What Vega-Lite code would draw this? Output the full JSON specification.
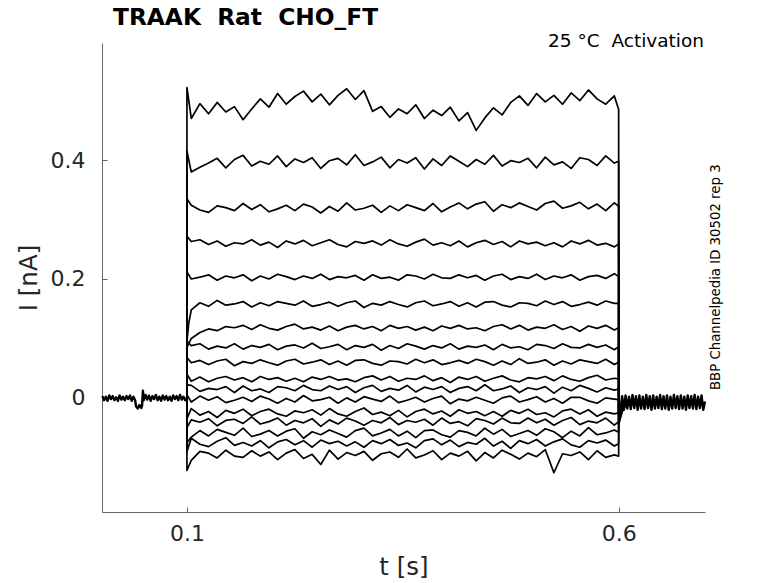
{
  "$schema": "https://vega.github.io/schema/vega-lite/v6.json",
  "width": 603,
  "height": 469,
  "autosize": "none",
  "padding": {"left": 102, "top": 43, "right": 73, "bottom": 71},
  "background": "white",
  "config": {"view": {"stroke": null}, "font": "DejaVu Sans"},
  "title": {"text": "TRAAK\u00a0 Rat\u00a0 CHO_FT", "anchor": "start", "frame": "group", "font": "DejaVu Sans", "fontSize": 23.3, "fontWeight": "bold", "color": "black", "dx": 11, "offset": 2, "baseline": "top"},
  "datasets": {
    "bands": [
      {"s":0,"t":0.002,"v":0.003},{"s":0,"t":0.004,"v":-0.004},{"s":0,"t":0.006,"v":0.002},{"s":0,"t":0.008,"v":-0.005},{"s":0,"t":0.010,"v":0.004},{"s":0,"t":0.012,"v":-0.002},{"s":0,"t":0.014,"v":0.003},{"s":0,"t":0.016,"v":-0.004},{"s":0,"t":0.018,"v":0.001},{"s":0,"t":0.020,"v":-0.005},
      {"s":0,"t":0.022,"v":0.004},{"s":0,"t":0.024,"v":-0.003},{"s":0,"t":0.026,"v":0.002},{"s":0,"t":0.028,"v":-0.004},{"s":0,"t":0.030,"v":0.003},{"s":0,"t":0.032,"v":-0.002},{"s":0,"t":0.034,"v":0.004},{"s":0,"t":0.036,"v":-0.005},{"s":0,"t":0.038,"v":0.002},{"s":0,"t":0.040,"v":-0.004},
      {"s":0,"t":0.041,"v":-0.014},{"s":0,"t":0.043,"v":-0.018},{"s":0,"t":0.045,"v":-0.012},{"s":0,"t":0.047,"v":-0.017},{"s":0,"t":0.048,"v":-0.013},{"s":0,"t":0.049,"v":0.012},{"s":0,"t":0.050,"v":-0.004},{"s":0,"t":0.052,"v":0.005},{"s":0,"t":0.054,"v":-0.003},{"s":0,"t":0.056,"v":0.004},
      {"s":0,"t":0.058,"v":-0.005},{"s":0,"t":0.060,"v":0.003},{"s":0,"t":0.062,"v":-0.002},{"s":0,"t":0.064,"v":0.005},{"s":0,"t":0.066,"v":-0.004},{"s":0,"t":0.068,"v":0.002},{"s":0,"t":0.070,"v":-0.005},{"s":0,"t":0.072,"v":0.004},{"s":0,"t":0.074,"v":-0.003},{"s":0,"t":0.076,"v":0.003},
      {"s":0,"t":0.078,"v":-0.004},{"s":0,"t":0.080,"v":0.002},{"s":0,"t":0.082,"v":-0.005},{"s":0,"t":0.084,"v":0.004},{"s":0,"t":0.086,"v":-0.002},{"s":0,"t":0.088,"v":0.003},{"s":0,"t":0.090,"v":-0.004},{"s":0,"t":0.092,"v":0.005},{"s":0,"t":0.094,"v":-0.003},{"s":0,"t":0.096,"v":0.002},{"s":0,"t":0.098,"v":-0.004},{"s":0,"t":0.0999,"v":0.0},
      {"s":18,"t":0.600,"v":-0.010},{"s":18,"t":0.602,"v":-0.022},{"s":18,"t":0.604,"v":0.003},{"s":18,"t":0.606,"v":-0.020},{"s":18,"t":0.608,"v":0.004},{"s":18,"t":0.610,"v":-0.018},{"s":18,"t":0.612,"v":0.002},{"s":18,"t":0.614,"v":-0.019},{"s":18,"t":0.616,"v":0.005},{"s":18,"t":0.618,"v":-0.017},
      {"s":18,"t":0.620,"v":0.003},{"s":18,"t":0.622,"v":-0.020},{"s":18,"t":0.624,"v":0.004},{"s":18,"t":0.626,"v":-0.018},{"s":18,"t":0.628,"v":0.002},{"s":18,"t":0.630,"v":-0.019},{"s":18,"t":0.632,"v":0.005},{"s":18,"t":0.634,"v":-0.017},{"s":18,"t":0.636,"v":0.003},{"s":18,"t":0.638,"v":-0.020},
      {"s":18,"t":0.640,"v":0.004},{"s":18,"t":0.642,"v":-0.018},{"s":18,"t":0.644,"v":0.002},{"s":18,"t":0.646,"v":-0.017},{"s":18,"t":0.648,"v":0.005},{"s":18,"t":0.650,"v":-0.019},{"s":18,"t":0.652,"v":0.003},{"s":18,"t":0.654,"v":-0.018},{"s":18,"t":0.656,"v":0.004},{"s":18,"t":0.658,"v":-0.020},
      {"s":18,"t":0.660,"v":0.002},{"s":18,"t":0.662,"v":-0.018},{"s":18,"t":0.664,"v":0.005},{"s":18,"t":0.666,"v":-0.017},{"s":18,"t":0.668,"v":0.003},{"s":18,"t":0.670,"v":-0.019},{"s":18,"t":0.672,"v":0.004},{"s":18,"t":0.674,"v":-0.018},{"s":18,"t":0.676,"v":0.002},{"s":18,"t":0.678,"v":-0.020},
      {"s":18,"t":0.680,"v":0.004},{"s":18,"t":0.682,"v":-0.017},{"s":18,"t":0.684,"v":0.003},{"s":18,"t":0.686,"v":-0.018},{"s":18,"t":0.688,"v":0.005},{"s":18,"t":0.690,"v":-0.019},{"s":18,"t":0.692,"v":0.002},{"s":18,"t":0.694,"v":-0.017},{"s":18,"t":0.696,"v":0.004},{"s":18,"t":0.698,"v":-0.020},{"s":18,"t":0.700,"v":-0.006}
    ],
    "traces": [
      {"s":1,"t":0.0999,"v":0.001},{"s":1,"t":0.1,"v":0.522},
      {"s":1,"t":0.105,"v":0.470},{"s":1,"t":0.115,"v":0.495},{"s":1,"t":0.125,"v":0.478},{"s":1,"t":0.135,"v":0.497},{"s":1,"t":0.145,"v":0.481},{"s":1,"t":0.155,"v":0.490},{"s":1,"t":0.165,"v":0.468},{"s":1,"t":0.175,"v":0.486},{"s":1,"t":0.185,"v":0.503},{"s":1,"t":0.195,"v":0.489},
      {"s":1,"t":0.205,"v":0.512},{"s":1,"t":0.215,"v":0.494},{"s":1,"t":0.225,"v":0.507},{"s":1,"t":0.235,"v":0.516},{"s":1,"t":0.245,"v":0.498},{"s":1,"t":0.255,"v":0.511},{"s":1,"t":0.265,"v":0.493},{"s":1,"t":0.275,"v":0.509},{"s":1,"t":0.285,"v":0.520},{"s":1,"t":0.295,"v":0.502},
      {"s":1,"t":0.305,"v":0.517},{"s":1,"t":0.315,"v":0.482},{"s":1,"t":0.325,"v":0.490},{"s":1,"t":0.335,"v":0.472},{"s":1,"t":0.345,"v":0.486},{"s":1,"t":0.355,"v":0.478},{"s":1,"t":0.365,"v":0.493},{"s":1,"t":0.375,"v":0.470},{"s":1,"t":0.385,"v":0.484},{"s":1,"t":0.395,"v":0.475},
      {"s":1,"t":0.405,"v":0.489},{"s":1,"t":0.415,"v":0.466},{"s":1,"t":0.425,"v":0.480},{"s":1,"t":0.435,"v":0.450},{"s":1,"t":0.445,"v":0.471},{"s":1,"t":0.455,"v":0.488},{"s":1,"t":0.465,"v":0.476},{"s":1,"t":0.475,"v":0.497},{"s":1,"t":0.485,"v":0.508},{"s":1,"t":0.495,"v":0.492},
      {"s":1,"t":0.505,"v":0.512},{"s":1,"t":0.515,"v":0.498},{"s":1,"t":0.525,"v":0.509},{"s":1,"t":0.535,"v":0.494},{"s":1,"t":0.545,"v":0.513},{"s":1,"t":0.555,"v":0.500},{"s":1,"t":0.565,"v":0.518},{"s":1,"t":0.575,"v":0.503},{"s":1,"t":0.585,"v":0.494},{"s":1,"t":0.595,"v":0.508},
      {"s":1,"t":0.6,"v":0.485},{"s":1,"t":0.6001,"v":-0.045},{"s":1,"t":0.604,"v":-0.024},{"s":1,"t":0.61,"v":-0.008},

      {"s":2,"t":0.0999,"v":-0.001},{"s":2,"t":0.1,"v":0.415},
      {"s":2,"t":0.105,"v":0.380},{"s":2,"t":0.115,"v":0.388},{"s":2,"t":0.125,"v":0.395},{"s":2,"t":0.135,"v":0.403},{"s":2,"t":0.145,"v":0.387},{"s":2,"t":0.155,"v":0.401},{"s":2,"t":0.165,"v":0.408},{"s":2,"t":0.175,"v":0.390},{"s":2,"t":0.185,"v":0.398},{"s":2,"t":0.195,"v":0.393},
      {"s":2,"t":0.205,"v":0.407},{"s":2,"t":0.215,"v":0.389},{"s":2,"t":0.225,"v":0.402},{"s":2,"t":0.235,"v":0.396},{"s":2,"t":0.245,"v":0.404},{"s":2,"t":0.255,"v":0.386},{"s":2,"t":0.265,"v":0.399},{"s":2,"t":0.275,"v":0.403},{"s":2,"t":0.285,"v":0.392},{"s":2,"t":0.295,"v":0.409},
      {"s":2,"t":0.305,"v":0.391},{"s":2,"t":0.315,"v":0.397},{"s":2,"t":0.325,"v":0.405},{"s":2,"t":0.335,"v":0.387},{"s":2,"t":0.345,"v":0.401},{"s":2,"t":0.355,"v":0.395},{"s":2,"t":0.365,"v":0.404},{"s":2,"t":0.375,"v":0.385},{"s":2,"t":0.385,"v":0.402},{"s":2,"t":0.395,"v":0.391},
      {"s":2,"t":0.405,"v":0.407},{"s":2,"t":0.415,"v":0.398},{"s":2,"t":0.425,"v":0.389},{"s":2,"t":0.435,"v":0.401},{"s":2,"t":0.445,"v":0.393},{"s":2,"t":0.455,"v":0.408},{"s":2,"t":0.465,"v":0.390},{"s":2,"t":0.475,"v":0.399},{"s":2,"t":0.485,"v":0.396},{"s":2,"t":0.495,"v":0.403},
      {"s":2,"t":0.505,"v":0.387},{"s":2,"t":0.515,"v":0.405},{"s":2,"t":0.525,"v":0.392},{"s":2,"t":0.535,"v":0.397},{"s":2,"t":0.545,"v":0.386},{"s":2,"t":0.555,"v":0.404},{"s":2,"t":0.565,"v":0.401},{"s":2,"t":0.575,"v":0.391},{"s":2,"t":0.585,"v":0.407},{"s":2,"t":0.595,"v":0.395},
      {"s":2,"t":0.6,"v":0.398},{"s":2,"t":0.6001,"v":-0.040},{"s":2,"t":0.604,"v":-0.021},{"s":2,"t":0.61,"v":-0.006},

      {"s":3,"t":0.0999,"v":0.002},{"s":3,"t":0.1,"v":0.335},
      {"s":3,"t":0.105,"v":0.324},{"s":3,"t":0.115,"v":0.316},{"s":3,"t":0.125,"v":0.312},{"s":3,"t":0.135,"v":0.323},{"s":3,"t":0.145,"v":0.320},{"s":3,"t":0.155,"v":0.315},{"s":3,"t":0.165,"v":0.327},{"s":3,"t":0.175,"v":0.317},{"s":3,"t":0.185,"v":0.325},{"s":3,"t":0.195,"v":0.313},
      {"s":3,"t":0.205,"v":0.318},{"s":3,"t":0.215,"v":0.324},{"s":3,"t":0.225,"v":0.315},{"s":3,"t":0.235,"v":0.326},{"s":3,"t":0.245,"v":0.321},{"s":3,"t":0.255,"v":0.311},{"s":3,"t":0.265,"v":0.322},{"s":3,"t":0.275,"v":0.314},{"s":3,"t":0.285,"v":0.328},{"s":3,"t":0.295,"v":0.316},
      {"s":3,"t":0.305,"v":0.319},{"s":3,"t":0.315,"v":0.324},{"s":3,"t":0.325,"v":0.312},{"s":3,"t":0.335,"v":0.323},{"s":3,"t":0.345,"v":0.315},{"s":3,"t":0.355,"v":0.325},{"s":3,"t":0.365,"v":0.320},{"s":3,"t":0.375,"v":0.315},{"s":3,"t":0.385,"v":0.327},{"s":3,"t":0.395,"v":0.313},
      {"s":3,"t":0.405,"v":0.321},{"s":3,"t":0.415,"v":0.328},{"s":3,"t":0.425,"v":0.318},{"s":3,"t":0.435,"v":0.326},{"s":3,"t":0.445,"v":0.330},{"s":3,"t":0.455,"v":0.314},{"s":3,"t":0.465,"v":0.325},{"s":3,"t":0.475,"v":0.320},{"s":3,"t":0.485,"v":0.328},{"s":3,"t":0.495,"v":0.322},
      {"s":3,"t":0.505,"v":0.316},{"s":3,"t":0.515,"v":0.327},{"s":3,"t":0.525,"v":0.331},{"s":3,"t":0.535,"v":0.319},{"s":3,"t":0.545,"v":0.323},{"s":3,"t":0.555,"v":0.329},{"s":3,"t":0.565,"v":0.318},{"s":3,"t":0.575,"v":0.326},{"s":3,"t":0.585,"v":0.315},{"s":3,"t":0.595,"v":0.328},
      {"s":3,"t":0.6,"v":0.322},{"s":3,"t":0.6001,"v":-0.036},{"s":3,"t":0.604,"v":-0.019},{"s":3,"t":0.61,"v":-0.009},

      {"s":4,"t":0.0999,"v":-0.002},{"s":4,"t":0.1,"v":0.272},
      {"s":4,"t":0.105,"v":0.263},{"s":4,"t":0.115,"v":0.266},{"s":4,"t":0.125,"v":0.258},{"s":4,"t":0.135,"v":0.264},{"s":4,"t":0.145,"v":0.255},{"s":4,"t":0.155,"v":0.261},{"s":4,"t":0.165,"v":0.259},{"s":4,"t":0.175,"v":0.266},{"s":4,"t":0.185,"v":0.257},{"s":4,"t":0.195,"v":0.262},
      {"s":4,"t":0.205,"v":0.253},{"s":4,"t":0.215,"v":0.264},{"s":4,"t":0.225,"v":0.259},{"s":4,"t":0.235,"v":0.265},{"s":4,"t":0.245,"v":0.256},{"s":4,"t":0.255,"v":0.261},{"s":4,"t":0.265,"v":0.266},{"s":4,"t":0.275,"v":0.258},{"s":4,"t":0.285,"v":0.254},{"s":4,"t":0.295,"v":0.263},
      {"s":4,"t":0.305,"v":0.260},{"s":4,"t":0.315,"v":0.264},{"s":4,"t":0.325,"v":0.257},{"s":4,"t":0.335,"v":0.266},{"s":4,"t":0.345,"v":0.259},{"s":4,"t":0.355,"v":0.255},{"s":4,"t":0.365,"v":0.262},{"s":4,"t":0.375,"v":0.267},{"s":4,"t":0.385,"v":0.257},{"s":4,"t":0.395,"v":0.261},
      {"s":4,"t":0.405,"v":0.256},{"s":4,"t":0.415,"v":0.264},{"s":4,"t":0.425,"v":0.254},{"s":4,"t":0.435,"v":0.261},{"s":4,"t":0.445,"v":0.265},{"s":4,"t":0.455,"v":0.258},{"s":4,"t":0.465,"v":0.263},{"s":4,"t":0.475,"v":0.254},{"s":4,"t":0.485,"v":0.264},{"s":4,"t":0.495,"v":0.259},
      {"s":4,"t":0.505,"v":0.262},{"s":4,"t":0.515,"v":0.256},{"s":4,"t":0.525,"v":0.261},{"s":4,"t":0.535,"v":0.254},{"s":4,"t":0.545,"v":0.264},{"s":4,"t":0.555,"v":0.259},{"s":4,"t":0.565,"v":0.265},{"s":4,"t":0.575,"v":0.257},{"s":4,"t":0.585,"v":0.260},{"s":4,"t":0.595,"v":0.254},
      {"s":4,"t":0.6,"v":0.259},{"s":4,"t":0.6001,"v":-0.032},{"s":4,"t":0.604,"v":-0.017},{"s":4,"t":0.61,"v":-0.007},

      {"s":5,"t":0.0999,"v":0.003},{"s":5,"t":0.1,"v":0.212},
      {"s":5,"t":0.105,"v":0.200},{"s":5,"t":0.115,"v":0.203},{"s":5,"t":0.125,"v":0.207},{"s":5,"t":0.135,"v":0.198},{"s":5,"t":0.145,"v":0.205},{"s":5,"t":0.155,"v":0.202},{"s":5,"t":0.165,"v":0.207},{"s":5,"t":0.175,"v":0.197},{"s":5,"t":0.185,"v":0.205},{"s":5,"t":0.195,"v":0.200},
      {"s":5,"t":0.205,"v":0.208},{"s":5,"t":0.215,"v":0.204},{"s":5,"t":0.225,"v":0.199},{"s":5,"t":0.235,"v":0.205},{"s":5,"t":0.245,"v":0.201},{"s":5,"t":0.255,"v":0.208},{"s":5,"t":0.265,"v":0.199},{"s":5,"t":0.275,"v":0.204},{"s":5,"t":0.285,"v":0.202},{"s":5,"t":0.295,"v":0.206},
      {"s":5,"t":0.305,"v":0.198},{"s":5,"t":0.315,"v":0.207},{"s":5,"t":0.325,"v":0.201},{"s":5,"t":0.335,"v":0.203},{"s":5,"t":0.345,"v":0.198},{"s":5,"t":0.355,"v":0.207},{"s":5,"t":0.365,"v":0.205},{"s":5,"t":0.375,"v":0.200},{"s":5,"t":0.385,"v":0.208},{"s":5,"t":0.395,"v":0.202},
      {"s":5,"t":0.405,"v":0.201},{"s":5,"t":0.415,"v":0.207},{"s":5,"t":0.425,"v":0.202},{"s":5,"t":0.435,"v":0.206},{"s":5,"t":0.445,"v":0.198},{"s":5,"t":0.455,"v":0.205},{"s":5,"t":0.465,"v":0.208},{"s":5,"t":0.475,"v":0.199},{"s":5,"t":0.485,"v":0.204},{"s":5,"t":0.495,"v":0.201},
      {"s":5,"t":0.505,"v":0.208},{"s":5,"t":0.515,"v":0.199},{"s":5,"t":0.525,"v":0.205},{"s":5,"t":0.535,"v":0.202},{"s":5,"t":0.545,"v":0.207},{"s":5,"t":0.555,"v":0.198},{"s":5,"t":0.565,"v":0.204},{"s":5,"t":0.575,"v":0.206},{"s":5,"t":0.585,"v":0.201},{"s":5,"t":0.595,"v":0.209},
      {"s":5,"t":0.6,"v":0.204},{"s":5,"t":0.6001,"v":-0.030},{"s":5,"t":0.604,"v":-0.016},{"s":5,"t":0.61,"v":-0.008},

      {"s":6,"t":0.0999,"v":-0.003},{"s":6,"t":0.1,"v":0.095},{"s":6,"t":0.102,"v":0.125},
      {"s":6,"t":0.105,"v":0.148},{"s":6,"t":0.115,"v":0.160},{"s":6,"t":0.125,"v":0.154},{"s":6,"t":0.135,"v":0.164},{"s":6,"t":0.145,"v":0.156},{"s":6,"t":0.155,"v":0.158},{"s":6,"t":0.165,"v":0.162},{"s":6,"t":0.175,"v":0.153},{"s":6,"t":0.185,"v":0.160},{"s":6,"t":0.195,"v":0.155},
      {"s":6,"t":0.205,"v":0.162},{"s":6,"t":0.215,"v":0.159},{"s":6,"t":0.225,"v":0.156},{"s":6,"t":0.235,"v":0.163},{"s":6,"t":0.245,"v":0.154},{"s":6,"t":0.255,"v":0.157},{"s":6,"t":0.265,"v":0.161},{"s":6,"t":0.275,"v":0.154},{"s":6,"t":0.285,"v":0.160},{"s":6,"t":0.295,"v":0.163},
      {"s":6,"t":0.305,"v":0.152},{"s":6,"t":0.315,"v":0.159},{"s":6,"t":0.325,"v":0.156},{"s":6,"t":0.335,"v":0.162},{"s":6,"t":0.345,"v":0.157},{"s":6,"t":0.355,"v":0.153},{"s":6,"t":0.365,"v":0.160},{"s":6,"t":0.375,"v":0.163},{"s":6,"t":0.385,"v":0.155},{"s":6,"t":0.395,"v":0.158},
      {"s":6,"t":0.405,"v":0.162},{"s":6,"t":0.415,"v":0.154},{"s":6,"t":0.425,"v":0.160},{"s":6,"t":0.435,"v":0.153},{"s":6,"t":0.445,"v":0.161},{"s":6,"t":0.455,"v":0.162},{"s":6,"t":0.465,"v":0.156},{"s":6,"t":0.475,"v":0.153},{"s":6,"t":0.485,"v":0.160},{"s":6,"t":0.495,"v":0.159},
      {"s":6,"t":0.505,"v":0.155},{"s":6,"t":0.515,"v":0.163},{"s":6,"t":0.525,"v":0.157},{"s":6,"t":0.535,"v":0.162},{"s":6,"t":0.545,"v":0.154},{"s":6,"t":0.555,"v":0.157},{"s":6,"t":0.565,"v":0.161},{"s":6,"t":0.575,"v":0.156},{"s":6,"t":0.585,"v":0.163},{"s":6,"t":0.595,"v":0.159},
      {"s":6,"t":0.6,"v":0.159},{"s":6,"t":0.6001,"v":-0.027},{"s":6,"t":0.604,"v":-0.015},{"s":6,"t":0.61,"v":-0.007},

      {"s":7,"t":0.0999,"v":0.002},{"s":7,"t":0.1,"v":0.085},
      {"s":7,"t":0.105,"v":0.100},{"s":7,"t":0.115,"v":0.110},{"s":7,"t":0.125,"v":0.116},{"s":7,"t":0.135,"v":0.113},{"s":7,"t":0.145,"v":0.120},{"s":7,"t":0.155,"v":0.118},{"s":7,"t":0.165,"v":0.122},{"s":7,"t":0.175,"v":0.115},{"s":7,"t":0.185,"v":0.123},{"s":7,"t":0.195,"v":0.117},
      {"s":7,"t":0.205,"v":0.114},{"s":7,"t":0.215,"v":0.120},{"s":7,"t":0.225,"v":0.124},{"s":7,"t":0.235,"v":0.116},{"s":7,"t":0.245,"v":0.119},{"s":7,"t":0.255,"v":0.114},{"s":7,"t":0.265,"v":0.121},{"s":7,"t":0.275,"v":0.113},{"s":7,"t":0.285,"v":0.119},{"s":7,"t":0.295,"v":0.122},
      {"s":7,"t":0.305,"v":0.116},{"s":7,"t":0.315,"v":0.120},{"s":7,"t":0.325,"v":0.113},{"s":7,"t":0.335,"v":0.122},{"s":7,"t":0.345,"v":0.117},{"s":7,"t":0.355,"v":0.120},{"s":7,"t":0.365,"v":0.114},{"s":7,"t":0.375,"v":0.119},{"s":7,"t":0.385,"v":0.113},{"s":7,"t":0.395,"v":0.121},
      {"s":7,"t":0.405,"v":0.117},{"s":7,"t":0.415,"v":0.122},{"s":7,"t":0.425,"v":0.116},{"s":7,"t":0.435,"v":0.118},{"s":7,"t":0.445,"v":0.113},{"s":7,"t":0.455,"v":0.120},{"s":7,"t":0.465,"v":0.123},{"s":7,"t":0.475,"v":0.116},{"s":7,"t":0.485,"v":0.122},{"s":7,"t":0.495,"v":0.114},
      {"s":7,"t":0.505,"v":0.119},{"s":7,"t":0.515,"v":0.117},{"s":7,"t":0.525,"v":0.123},{"s":7,"t":0.535,"v":0.115},{"s":7,"t":0.545,"v":0.120},{"s":7,"t":0.555,"v":0.112},{"s":7,"t":0.565,"v":0.121},{"s":7,"t":0.575,"v":0.117},{"s":7,"t":0.585,"v":0.122},{"s":7,"t":0.595,"v":0.114},
      {"s":7,"t":0.6,"v":0.118},{"s":7,"t":0.6001,"v":-0.024},{"s":7,"t":0.604,"v":-0.013},{"s":7,"t":0.61,"v":-0.006},

      {"s":8,"t":0.0999,"v":-0.001},{"s":8,"t":0.1,"v":0.095},
      {"s":8,"t":0.105,"v":0.088},{"s":8,"t":0.115,"v":0.091},{"s":8,"t":0.125,"v":0.082},{"s":8,"t":0.135,"v":0.087},{"s":8,"t":0.145,"v":0.084},{"s":8,"t":0.155,"v":0.091},{"s":8,"t":0.165,"v":0.082},{"s":8,"t":0.175,"v":0.088},{"s":8,"t":0.185,"v":0.085},{"s":8,"t":0.195,"v":0.090},
      {"s":8,"t":0.205,"v":0.081},{"s":8,"t":0.215,"v":0.087},{"s":8,"t":0.225,"v":0.089},{"s":8,"t":0.235,"v":0.084},{"s":8,"t":0.245,"v":0.092},{"s":8,"t":0.255,"v":0.083},{"s":8,"t":0.265,"v":0.086},{"s":8,"t":0.275,"v":0.090},{"s":8,"t":0.285,"v":0.081},{"s":8,"t":0.295,"v":0.088},
      {"s":8,"t":0.305,"v":0.085},{"s":8,"t":0.315,"v":0.090},{"s":8,"t":0.325,"v":0.080},{"s":8,"t":0.335,"v":0.088},{"s":8,"t":0.345,"v":0.083},{"s":8,"t":0.355,"v":0.091},{"s":8,"t":0.365,"v":0.087},{"s":8,"t":0.375,"v":0.082},{"s":8,"t":0.385,"v":0.088},{"s":8,"t":0.395,"v":0.084},
      {"s":8,"t":0.405,"v":0.091},{"s":8,"t":0.415,"v":0.082},{"s":8,"t":0.425,"v":0.087},{"s":8,"t":0.435,"v":0.085},{"s":8,"t":0.445,"v":0.089},{"s":8,"t":0.455,"v":0.081},{"s":8,"t":0.465,"v":0.090},{"s":8,"t":0.475,"v":0.084},{"s":8,"t":0.485,"v":0.086},{"s":8,"t":0.495,"v":0.081},
      {"s":8,"t":0.505,"v":0.090},{"s":8,"t":0.515,"v":0.088},{"s":8,"t":0.525,"v":0.083},{"s":8,"t":0.535,"v":0.091},{"s":8,"t":0.545,"v":0.085},{"s":8,"t":0.555,"v":0.084},{"s":8,"t":0.565,"v":0.090},{"s":8,"t":0.575,"v":0.085},{"s":8,"t":0.585,"v":0.089},{"s":8,"t":0.595,"v":0.081},
      {"s":8,"t":0.6,"v":0.086},{"s":8,"t":0.6001,"v":-0.022},{"s":8,"t":0.604,"v":-0.012},{"s":8,"t":0.61,"v":-0.008},

      {"s":9,"t":0.0999,"v":0.001},{"s":9,"t":0.1,"v":0.068},
      {"s":9,"t":0.105,"v":0.059},{"s":9,"t":0.115,"v":0.063},{"s":9,"t":0.125,"v":0.056},{"s":9,"t":0.135,"v":0.062},{"s":9,"t":0.145,"v":0.065},{"s":9,"t":0.155,"v":0.054},{"s":9,"t":0.165,"v":0.061},{"s":9,"t":0.175,"v":0.058},{"s":9,"t":0.185,"v":0.064},{"s":9,"t":0.195,"v":0.059},
      {"s":9,"t":0.205,"v":0.055},{"s":9,"t":0.215,"v":0.062},{"s":9,"t":0.225,"v":0.065},{"s":9,"t":0.235,"v":0.057},{"s":9,"t":0.245,"v":0.060},{"s":9,"t":0.255,"v":0.064},{"s":9,"t":0.265,"v":0.056},{"s":9,"t":0.275,"v":0.062},{"s":9,"t":0.285,"v":0.055},{"s":9,"t":0.295,"v":0.063},
      {"s":9,"t":0.305,"v":0.064},{"s":9,"t":0.315,"v":0.058},{"s":9,"t":0.325,"v":0.055},{"s":9,"t":0.335,"v":0.062},{"s":9,"t":0.345,"v":0.061},{"s":9,"t":0.355,"v":0.057},{"s":9,"t":0.365,"v":0.065},{"s":9,"t":0.375,"v":0.059},{"s":9,"t":0.385,"v":0.064},{"s":9,"t":0.395,"v":0.056},
      {"s":9,"t":0.405,"v":0.059},{"s":9,"t":0.415,"v":0.063},{"s":9,"t":0.425,"v":0.058},{"s":9,"t":0.435,"v":0.065},{"s":9,"t":0.445,"v":0.061},{"s":9,"t":0.455,"v":0.055},{"s":9,"t":0.465,"v":0.062},{"s":9,"t":0.475,"v":0.056},{"s":9,"t":0.485,"v":0.066},{"s":9,"t":0.495,"v":0.058},
      {"s":9,"t":0.505,"v":0.060},{"s":9,"t":0.515,"v":0.064},{"s":9,"t":0.525,"v":0.055},{"s":9,"t":0.535,"v":0.062},{"s":9,"t":0.545,"v":0.057},{"s":9,"t":0.555,"v":0.064},{"s":9,"t":0.565,"v":0.061},{"s":9,"t":0.575,"v":0.058},{"s":9,"t":0.585,"v":0.065},{"s":9,"t":0.595,"v":0.056},
      {"s":9,"t":0.6,"v":0.060},{"s":9,"t":0.6001,"v":-0.020},{"s":9,"t":0.604,"v":-0.011},{"s":9,"t":0.61,"v":-0.006},

      {"s":10,"t":0.0999,"v":-0.002},{"s":10,"t":0.1,"v":0.040},
      {"s":10,"t":0.105,"v":0.028},{"s":10,"t":0.115,"v":0.035},{"s":10,"t":0.125,"v":0.027},{"s":10,"t":0.135,"v":0.033},{"s":10,"t":0.145,"v":0.036},{"s":10,"t":0.155,"v":0.030},{"s":10,"t":0.165,"v":0.034},{"s":10,"t":0.175,"v":0.027},{"s":10,"t":0.185,"v":0.036},{"s":10,"t":0.195,"v":0.031},
      {"s":10,"t":0.205,"v":0.034},{"s":10,"t":0.215,"v":0.028},{"s":10,"t":0.225,"v":0.033},{"s":10,"t":0.235,"v":0.027},{"s":10,"t":0.245,"v":0.035},{"s":10,"t":0.255,"v":0.031},{"s":10,"t":0.265,"v":0.036},{"s":10,"t":0.275,"v":0.030},{"s":10,"t":0.285,"v":0.032},{"s":10,"t":0.295,"v":0.027},
      {"s":10,"t":0.305,"v":0.034},{"s":10,"t":0.315,"v":0.037},{"s":10,"t":0.325,"v":0.030},{"s":10,"t":0.335,"v":0.036},{"s":10,"t":0.345,"v":0.028},{"s":10,"t":0.355,"v":0.033},{"s":10,"t":0.365,"v":0.031},{"s":10,"t":0.375,"v":0.037},{"s":10,"t":0.385,"v":0.029},{"s":10,"t":0.395,"v":0.034},
      {"s":10,"t":0.405,"v":0.026},{"s":10,"t":0.415,"v":0.035},{"s":10,"t":0.425,"v":0.031},{"s":10,"t":0.435,"v":0.036},{"s":10,"t":0.445,"v":0.028},{"s":10,"t":0.455,"v":0.033},{"s":10,"t":0.465,"v":0.037},{"s":10,"t":0.475,"v":0.030},{"s":10,"t":0.485,"v":0.027},{"s":10,"t":0.495,"v":0.034},
      {"s":10,"t":0.505,"v":0.032},{"s":10,"t":0.515,"v":0.036},{"s":10,"t":0.525,"v":0.029},{"s":10,"t":0.535,"v":0.037},{"s":10,"t":0.545,"v":0.031},{"s":10,"t":0.555,"v":0.028},{"s":10,"t":0.565,"v":0.034},{"s":10,"t":0.575,"v":0.038},{"s":10,"t":0.585,"v":0.030},{"s":10,"t":0.595,"v":0.033},
      {"s":10,"t":0.6,"v":0.032},{"s":10,"t":0.6001,"v":-0.018},{"s":10,"t":0.604,"v":-0.010},{"s":10,"t":0.61,"v":-0.007},

      {"s":11,"t":0.0999,"v":0.002},{"s":11,"t":0.1,"v":0.022},
      {"s":11,"t":0.105,"v":0.021},{"s":11,"t":0.115,"v":0.011},{"s":11,"t":0.125,"v":0.016},{"s":11,"t":0.135,"v":0.014},{"s":11,"t":0.145,"v":0.019},{"s":11,"t":0.155,"v":0.009},{"s":11,"t":0.165,"v":0.020},{"s":11,"t":0.175,"v":0.012},{"s":11,"t":0.185,"v":0.015},{"s":11,"t":0.195,"v":0.009},
      {"s":11,"t":0.205,"v":0.019},{"s":11,"t":0.215,"v":0.017},{"s":11,"t":0.225,"v":0.012},{"s":11,"t":0.235,"v":0.021},{"s":11,"t":0.245,"v":0.014},{"s":11,"t":0.255,"v":0.012},{"s":11,"t":0.265,"v":0.020},{"s":11,"t":0.275,"v":0.014},{"s":11,"t":0.285,"v":0.019},{"s":11,"t":0.295,"v":0.009},
      {"s":11,"t":0.305,"v":0.017},{"s":11,"t":0.315,"v":0.021},{"s":11,"t":0.325,"v":0.011},{"s":11,"t":0.335,"v":0.016},{"s":11,"t":0.345,"v":0.013},{"s":11,"t":0.355,"v":0.021},{"s":11,"t":0.365,"v":0.010},{"s":11,"t":0.375,"v":0.018},{"s":11,"t":0.385,"v":0.014},{"s":11,"t":0.395,"v":0.019},
      {"s":11,"t":0.405,"v":0.009},{"s":11,"t":0.415,"v":0.016},{"s":11,"t":0.425,"v":0.019},{"s":11,"t":0.435,"v":0.012},{"s":11,"t":0.445,"v":0.022},{"s":11,"t":0.455,"v":0.012},{"s":11,"t":0.465,"v":0.015},{"s":11,"t":0.475,"v":0.020},{"s":11,"t":0.485,"v":0.009},{"s":11,"t":0.495,"v":0.017},
      {"s":11,"t":0.505,"v":0.014},{"s":11,"t":0.515,"v":0.019},{"s":11,"t":0.525,"v":0.008},{"s":11,"t":0.535,"v":0.018},{"s":11,"t":0.545,"v":0.012},{"s":11,"t":0.555,"v":0.021},{"s":11,"t":0.565,"v":0.016},{"s":11,"t":0.575,"v":0.010},{"s":11,"t":0.585,"v":0.017},{"s":11,"t":0.595,"v":0.013},
      {"s":11,"t":0.6,"v":0.015},{"s":11,"t":0.6001,"v":-0.016},{"s":11,"t":0.604,"v":-0.010},{"s":11,"t":0.61,"v":-0.008},

      {"s":12,"t":0.0999,"v":-0.001},{"s":12,"t":0.1,"v":0.005},
      {"s":12,"t":0.105,"v":-0.007},{"s":12,"t":0.115,"v":0.003},{"s":12,"t":0.125,"v":-0.004},{"s":12,"t":0.135,"v":0.002},{"s":12,"t":0.145,"v":-0.008},{"s":12,"t":0.155,"v":-0.004},{"s":12,"t":0.165,"v":0.001},{"s":12,"t":0.175,"v":-0.006},{"s":12,"t":0.185,"v":0.003},{"s":12,"t":0.195,"v":-0.002},
      {"s":12,"t":0.205,"v":-0.009},{"s":12,"t":0.215,"v":-0.001},{"s":12,"t":0.225,"v":-0.007},{"s":12,"t":0.235,"v":0.004},{"s":12,"t":0.245,"v":-0.005},{"s":12,"t":0.255,"v":-0.003},{"s":12,"t":0.265,"v":0.001},{"s":12,"t":0.275,"v":-0.009},{"s":12,"t":0.285,"v":0.000},{"s":12,"t":0.295,"v":-0.007},
      {"s":12,"t":0.305,"v":0.002},{"s":12,"t":0.315,"v":-0.002},{"s":12,"t":0.325,"v":-0.006},{"s":12,"t":0.335,"v":0.003},{"s":12,"t":0.345,"v":-0.008},{"s":12,"t":0.355,"v":-0.004},{"s":12,"t":0.365,"v":0.001},{"s":12,"t":0.375,"v":-0.007},{"s":12,"t":0.385,"v":-0.001},{"s":12,"t":0.395,"v":0.003},
      {"s":12,"t":0.405,"v":-0.010},{"s":12,"t":0.415,"v":-0.002},{"s":12,"t":0.425,"v":-0.005},{"s":12,"t":0.435,"v":0.001},{"s":12,"t":0.445,"v":-0.004},{"s":12,"t":0.455,"v":-0.009},{"s":12,"t":0.465,"v":0.000},{"s":12,"t":0.475,"v":0.003},{"s":12,"t":0.485,"v":-0.007},{"s":12,"t":0.495,"v":-0.003},
      {"s":12,"t":0.505,"v":0.002},{"s":12,"t":0.515,"v":-0.007},{"s":12,"t":0.525,"v":-0.001},{"s":12,"t":0.535,"v":-0.009},{"s":12,"t":0.545,"v":0.001},{"s":12,"t":0.555,"v":0.001},{"s":12,"t":0.565,"v":-0.005},{"s":12,"t":0.575,"v":-0.009},{"s":12,"t":0.585,"v":0.000},{"s":12,"t":0.595,"v":-0.002},
      {"s":12,"t":0.6,"v":-0.003},{"s":12,"t":0.6001,"v":-0.014},{"s":12,"t":0.604,"v":-0.009},{"s":12,"t":0.61,"v":-0.006},

      {"s":13,"t":0.0999,"v":0.001},{"s":13,"t":0.1,"v":-0.035},
      {"s":13,"t":0.105,"v":-0.018},{"s":13,"t":0.115,"v":-0.029},{"s":13,"t":0.125,"v":-0.023},{"s":13,"t":0.135,"v":-0.033},{"s":13,"t":0.145,"v":-0.021},{"s":13,"t":0.155,"v":-0.026},{"s":13,"t":0.165,"v":-0.019},{"s":13,"t":0.175,"v":-0.030},{"s":13,"t":0.185,"v":-0.023},{"s":13,"t":0.195,"v":-0.019},
      {"s":13,"t":0.205,"v":-0.027},{"s":13,"t":0.215,"v":-0.031},{"s":13,"t":0.225,"v":-0.022},{"s":13,"t":0.235,"v":-0.025},{"s":13,"t":0.245,"v":-0.020},{"s":13,"t":0.255,"v":-0.029},{"s":13,"t":0.265,"v":-0.018},{"s":13,"t":0.275,"v":-0.027},{"s":13,"t":0.285,"v":-0.031},{"s":13,"t":0.295,"v":-0.023},
      {"s":13,"t":0.305,"v":-0.017},{"s":13,"t":0.315,"v":-0.028},{"s":13,"t":0.325,"v":-0.024},{"s":13,"t":0.335,"v":-0.030},{"s":13,"t":0.345,"v":-0.021},{"s":13,"t":0.355,"v":-0.032},{"s":13,"t":0.365,"v":-0.023},{"s":13,"t":0.375,"v":-0.019},{"s":13,"t":0.385,"v":-0.027},{"s":13,"t":0.395,"v":-0.022},
      {"s":13,"t":0.405,"v":-0.031},{"s":13,"t":0.415,"v":-0.020},{"s":13,"t":0.425,"v":-0.026},{"s":13,"t":0.435,"v":-0.023},{"s":13,"t":0.445,"v":-0.030},{"s":13,"t":0.455,"v":-0.023},{"s":13,"t":0.465,"v":-0.031},{"s":13,"t":0.475,"v":-0.021},{"s":13,"t":0.485,"v":-0.026},{"s":13,"t":0.495,"v":-0.019},
      {"s":13,"t":0.505,"v":-0.028},{"s":13,"t":0.515,"v":-0.025},{"s":13,"t":0.525,"v":-0.032},{"s":13,"t":0.535,"v":-0.022},{"s":13,"t":0.545,"v":-0.019},{"s":13,"t":0.555,"v":-0.027},{"s":13,"t":0.565,"v":-0.020},{"s":13,"t":0.575,"v":-0.031},{"s":13,"t":0.585,"v":-0.024},{"s":13,"t":0.595,"v":-0.027},
      {"s":13,"t":0.6,"v":-0.025},{"s":13,"t":0.6001,"v":-0.013},{"s":13,"t":0.604,"v":-0.009},{"s":13,"t":0.61,"v":-0.007},

      {"s":14,"t":0.0999,"v":-0.002},{"s":14,"t":0.1,"v":-0.050},
      {"s":14,"t":0.105,"v":-0.037},{"s":14,"t":0.115,"v":-0.041},{"s":14,"t":0.125,"v":-0.035},{"s":14,"t":0.135,"v":-0.047},{"s":14,"t":0.145,"v":-0.038},{"s":14,"t":0.155,"v":-0.036},{"s":14,"t":0.165,"v":-0.043},{"s":14,"t":0.175,"v":-0.032},{"s":14,"t":0.185,"v":-0.044},{"s":14,"t":0.195,"v":-0.040},
      {"s":14,"t":0.205,"v":-0.034},{"s":14,"t":0.215,"v":-0.046},{"s":14,"t":0.225,"v":-0.038},{"s":14,"t":0.235,"v":-0.042},{"s":14,"t":0.245,"v":-0.035},{"s":14,"t":0.255,"v":-0.048},{"s":14,"t":0.265,"v":-0.037},{"s":14,"t":0.275,"v":-0.044},{"s":14,"t":0.285,"v":-0.034},{"s":14,"t":0.295,"v":-0.039},
      {"s":14,"t":0.305,"v":-0.046},{"s":14,"t":0.315,"v":-0.038},{"s":14,"t":0.325,"v":-0.042},{"s":14,"t":0.335,"v":-0.033},{"s":14,"t":0.345,"v":-0.045},{"s":14,"t":0.355,"v":-0.038},{"s":14,"t":0.365,"v":-0.041},{"s":14,"t":0.375,"v":-0.036},{"s":14,"t":0.385,"v":-0.046},{"s":14,"t":0.395,"v":-0.034},
      {"s":14,"t":0.405,"v":-0.043},{"s":14,"t":0.415,"v":-0.040},{"s":14,"t":0.425,"v":-0.047},{"s":14,"t":0.435,"v":-0.035},{"s":14,"t":0.445,"v":-0.038},{"s":14,"t":0.455,"v":-0.044},{"s":14,"t":0.465,"v":-0.034},{"s":14,"t":0.475,"v":-0.042},{"s":14,"t":0.485,"v":-0.043},{"s":14,"t":0.495,"v":-0.034},
      {"s":14,"t":0.505,"v":-0.042},{"s":14,"t":0.515,"v":-0.036},{"s":14,"t":0.525,"v":-0.046},{"s":14,"t":0.535,"v":-0.038},{"s":14,"t":0.545,"v":-0.033},{"s":14,"t":0.555,"v":-0.045},{"s":14,"t":0.565,"v":-0.039},{"s":14,"t":0.575,"v":-0.042},{"s":14,"t":0.585,"v":-0.034},{"s":14,"t":0.595,"v":-0.046},
      {"s":14,"t":0.6,"v":-0.040},{"s":14,"t":0.6001,"v":-0.012},{"s":14,"t":0.604,"v":-0.009},{"s":14,"t":0.61,"v":-0.007},

      {"s":15,"t":0.0999,"v":0.002},{"s":15,"t":0.1,"v":-0.075},
      {"s":15,"t":0.105,"v":-0.066},{"s":15,"t":0.115,"v":-0.055},{"s":15,"t":0.125,"v":-0.064},{"s":15,"t":0.135,"v":-0.053},{"s":15,"t":0.145,"v":-0.058},{"s":15,"t":0.155,"v":-0.063},{"s":15,"t":0.165,"v":-0.051},{"s":15,"t":0.175,"v":-0.065},{"s":15,"t":0.185,"v":-0.061},{"s":15,"t":0.195,"v":-0.055},
      {"s":15,"t":0.205,"v":-0.064},{"s":15,"t":0.215,"v":-0.056},{"s":15,"t":0.225,"v":-0.052},{"s":15,"t":0.235,"v":-0.068},{"s":15,"t":0.245,"v":-0.057},{"s":15,"t":0.255,"v":-0.062},{"s":15,"t":0.265,"v":-0.054},{"s":15,"t":0.275,"v":-0.060},{"s":15,"t":0.285,"v":-0.066},{"s":15,"t":0.295,"v":-0.055},
      {"s":15,"t":0.305,"v":-0.051},{"s":15,"t":0.315,"v":-0.064},{"s":15,"t":0.325,"v":-0.059},{"s":15,"t":0.335,"v":-0.053},{"s":15,"t":0.345,"v":-0.064},{"s":15,"t":0.355,"v":-0.056},{"s":15,"t":0.365,"v":-0.067},{"s":15,"t":0.375,"v":-0.055},{"s":15,"t":0.385,"v":-0.054},{"s":15,"t":0.395,"v":-0.062},
      {"s":15,"t":0.405,"v":-0.066},{"s":15,"t":0.415,"v":-0.055},{"s":15,"t":0.425,"v":-0.058},{"s":15,"t":0.435,"v":-0.064},{"s":15,"t":0.445,"v":-0.051},{"s":15,"t":0.455,"v":-0.061},{"s":15,"t":0.465,"v":-0.053},{"s":15,"t":0.475,"v":-0.065},{"s":15,"t":0.485,"v":-0.060},{"s":15,"t":0.495,"v":-0.055},
      {"s":15,"t":0.505,"v":-0.063},{"s":15,"t":0.515,"v":-0.052},{"s":15,"t":0.525,"v":-0.057},{"s":15,"t":0.535,"v":-0.067},{"s":15,"t":0.545,"v":-0.056},{"s":15,"t":0.555,"v":-0.064},{"s":15,"t":0.565,"v":-0.050},{"s":15,"t":0.575,"v":-0.062},{"s":15,"t":0.585,"v":-0.059},{"s":15,"t":0.595,"v":-0.054},
      {"s":15,"t":0.6,"v":-0.058},{"s":15,"t":0.6001,"v":-0.011},{"s":15,"t":0.604,"v":-0.008},{"s":15,"t":0.61,"v":-0.006},

      {"s":16,"t":0.0999,"v":-0.001},{"s":16,"t":0.1,"v":-0.090},
      {"s":16,"t":0.105,"v":-0.068},{"s":16,"t":0.115,"v":-0.078},{"s":16,"t":0.125,"v":-0.082},{"s":16,"t":0.135,"v":-0.073},{"s":16,"t":0.145,"v":-0.067},{"s":16,"t":0.155,"v":-0.080},{"s":16,"t":0.165,"v":-0.075},{"s":16,"t":0.175,"v":-0.081},{"s":16,"t":0.185,"v":-0.072},{"s":16,"t":0.195,"v":-0.084},
      {"s":16,"t":0.205,"v":-0.074},{"s":16,"t":0.215,"v":-0.070},{"s":16,"t":0.225,"v":-0.079},{"s":16,"t":0.235,"v":-0.072},{"s":16,"t":0.245,"v":-0.083},{"s":16,"t":0.255,"v":-0.071},{"s":16,"t":0.265,"v":-0.077},{"s":16,"t":0.275,"v":-0.073},{"s":16,"t":0.285,"v":-0.081},{"s":16,"t":0.295,"v":-0.074},
      {"s":16,"t":0.305,"v":-0.083},{"s":16,"t":0.315,"v":-0.072},{"s":16,"t":0.325,"v":-0.077},{"s":16,"t":0.335,"v":-0.070},{"s":16,"t":0.345,"v":-0.080},{"s":16,"t":0.355,"v":-0.076},{"s":16,"t":0.365,"v":-0.084},{"s":16,"t":0.375,"v":-0.072},{"s":16,"t":0.385,"v":-0.069},{"s":16,"t":0.395,"v":-0.079},
      {"s":16,"t":0.405,"v":-0.071},{"s":16,"t":0.415,"v":-0.082},{"s":16,"t":0.425,"v":-0.075},{"s":16,"t":0.435,"v":-0.078},{"s":16,"t":0.445,"v":-0.068},{"s":16,"t":0.455,"v":-0.081},{"s":16,"t":0.465,"v":-0.073},{"s":16,"t":0.475,"v":-0.085},{"s":16,"t":0.485,"v":-0.072},{"s":16,"t":0.495,"v":-0.077},
      {"s":16,"t":0.505,"v":-0.070},{"s":16,"t":0.515,"v":-0.081},{"s":16,"t":0.525,"v":-0.074},{"s":16,"t":0.535,"v":-0.069},{"s":16,"t":0.545,"v":-0.079},{"s":16,"t":0.555,"v":-0.083},{"s":16,"t":0.565,"v":-0.072},{"s":16,"t":0.575,"v":-0.076},{"s":16,"t":0.585,"v":-0.071},{"s":16,"t":0.595,"v":-0.081},
      {"s":16,"t":0.6,"v":-0.077},{"s":16,"t":0.6001,"v":-0.012},{"s":16,"t":0.604,"v":-0.009},{"s":16,"t":0.61,"v":-0.007},

      {"s":17,"t":0.0999,"v":0.001},{"s":17,"t":0.1,"v":-0.122},
      {"s":17,"t":0.105,"v":-0.105},{"s":17,"t":0.115,"v":-0.090},{"s":17,"t":0.125,"v":-0.093},{"s":17,"t":0.135,"v":-0.101},{"s":17,"t":0.145,"v":-0.088},{"s":17,"t":0.155,"v":-0.098},{"s":17,"t":0.165,"v":-0.100},{"s":17,"t":0.175,"v":-0.089},{"s":17,"t":0.185,"v":-0.098},{"s":17,"t":0.195,"v":-0.091},
      {"s":17,"t":0.205,"v":-0.104},{"s":17,"t":0.215,"v":-0.093},{"s":17,"t":0.225,"v":-0.087},{"s":17,"t":0.235,"v":-0.102},{"s":17,"t":0.245,"v":-0.095},{"s":17,"t":0.255,"v":-0.112},{"s":17,"t":0.265,"v":-0.088},{"s":17,"t":0.275,"v":-0.103},{"s":17,"t":0.285,"v":-0.092},{"s":17,"t":0.295,"v":-0.097},
      {"s":17,"t":0.305,"v":-0.090},{"s":17,"t":0.315,"v":-0.105},{"s":17,"t":0.325,"v":-0.094},{"s":17,"t":0.335,"v":-0.091},{"s":17,"t":0.345,"v":-0.100},{"s":17,"t":0.355,"v":-0.086},{"s":17,"t":0.365,"v":-0.101},{"s":17,"t":0.375,"v":-0.096},{"s":17,"t":0.385,"v":-0.089},{"s":17,"t":0.395,"v":-0.104},
      {"s":17,"t":0.405,"v":-0.093},{"s":17,"t":0.415,"v":-0.098},{"s":17,"t":0.425,"v":-0.090},{"s":17,"t":0.435,"v":-0.106},{"s":17,"t":0.445,"v":-0.092},{"s":17,"t":0.455,"v":-0.101},{"s":17,"t":0.465,"v":-0.088},{"s":17,"t":0.475,"v":-0.095},{"s":17,"t":0.485,"v":-0.103},{"s":17,"t":0.495,"v":-0.093},
      {"s":17,"t":0.505,"v":-0.099},{"s":17,"t":0.515,"v":-0.087},{"s":17,"t":0.525,"v":-0.126},{"s":17,"t":0.535,"v":-0.094},{"s":17,"t":0.545,"v":-0.097},{"s":17,"t":0.555,"v":-0.091},{"s":17,"t":0.565,"v":-0.104},{"s":17,"t":0.575,"v":-0.089},{"s":17,"t":0.585,"v":-0.100},{"s":17,"t":0.595,"v":-0.096},
      {"s":17,"t":0.6,"v":-0.098},{"s":17,"t":0.6001,"v":-0.015},{"s":17,"t":0.604,"v":-0.010},{"s":17,"t":0.61,"v":-0.008}
    ]
  },
  "layer": [
    {
      "data": {"name": "traces"},
      "mark": {"type": "line", "color": "black", "strokeWidth": 1.7, "strokeJoin": "round"},
      "encoding": {
        "x": {
          "field": "t", "type": "quantitative",
          "scale": {"domain": [0.0016, 0.7], "nice": false, "zero": false},
          "axis": {"values": [0.1, 0.6], "format": "~g", "title": "t [s]", "grid": false, "tickSize": -5, "labelPadding": 16, "labelFontSize": 22, "labelColor": "#262626", "titleFontSize": 24.5, "titleFontWeight": "normal", "titleColor": "#262626", "titlePadding": 11, "domainColor": "#666666", "tickColor": "#666666"}
        },
        "y": {
          "field": "v", "type": "quantitative",
          "scale": {"domain": [-0.192, 0.597], "nice": false, "zero": false},
          "axis": {"values": [0, 0.2, 0.4], "format": "~g", "title": "I [nA]", "grid": false, "tickSize": -5, "labelPadding": 22, "labelFontSize": 22, "labelColor": "#262626", "titleFontSize": 24.5, "titleFontWeight": "normal", "titleColor": "#262626", "titlePadding": 9, "domainColor": "#666666", "tickColor": "#666666"}
        },
        "detail": {"field": "s"}
      }
    },
    {
      "data": {"name": "bands"},
      "mark": {"type": "line", "color": "black", "strokeWidth": 2.4, "strokeJoin": "round"},
      "encoding": {
        "x": {"field": "t", "type": "quantitative"},
        "y": {"field": "v", "type": "quantitative"},
        "detail": {"field": "s"}
      }
    },
    {
      "data": {"values": [{"label": "25 °C\u00a0 Activation"}]},
      "mark": {"type": "text", "align": "right", "baseline": "alphabetic", "font": "DejaVu Sans", "fontSize": 18.5, "color": "black", "dx": -1, "dy": 4},
      "encoding": {"x": {"datum": 0.7}, "y": {"datum": 0.597}, "text": {"field": "label"}}
    },
    {
      "data": {"values": [{"label": "BBP Channelpedia ID 30502 rep 3"}]},
      "mark": {"type": "text", "align": "center", "baseline": "middle", "angle": 270, "font": "DejaVu Sans", "fontSize": 13.3, "color": "black"},
      "encoding": {"x": {"datum": 0.7126}, "y": {"datum": 0.203}, "text": {"field": "label"}}
    }
  ]
}
